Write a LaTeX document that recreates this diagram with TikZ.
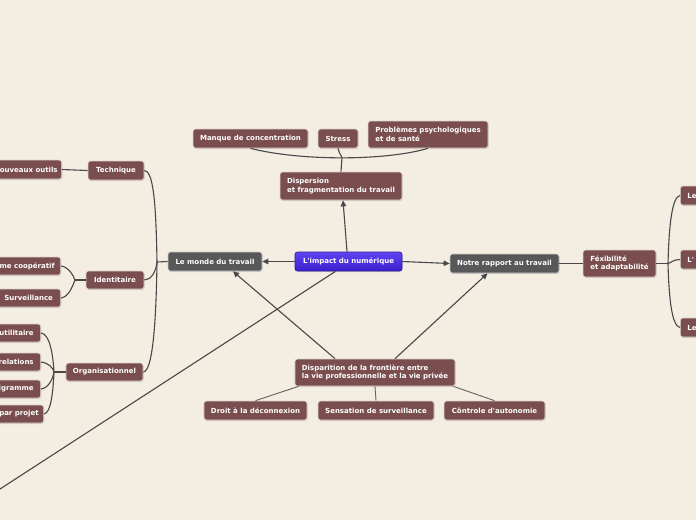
\documentclass[tikz,border=0pt]{standalone}
\usepackage{fontspec}
\newfontfamily\mf{DejaVu Sans}
\usetikzlibrary{shadows,arrows.meta,calc}
\definecolor{bg}{RGB}{243,237,226}
\definecolor{nbrown}{RGB}{122,78,78}
\definecolor{ngray}{RGB}{88,88,88}
\definecolor{lc}{RGB}{72,72,72}
\definecolor{ctop}{RGB}{96,68,242}
\definecolor{cbot}{RGB}{58,32,204}
\definecolor{cbord}{RGB}{50,30,160}
\begin{document}
\begin{tikzpicture}[x=1pt,y=-1pt,
  box/.style={rounded corners=2.5pt, draw=white!75!nbrown, line width=0.7pt, text=white,
    font=\mf\bfseries\fontsize{7}{8.8}\selectfont, inner xsep=7pt, inner ysep=0pt, align=left,
    drop shadow={shadow xshift=0.6pt, shadow yshift=-1pt, opacity=0.25}},
  bn/.style={box, fill=nbrown},
  gn/.style={box, fill=ngray, draw=white!70!ngray},
  cn/.style={box, top color=ctop, bottom color=cbot, draw=cbord},
  sz/.style 2 args={minimum width=#1pt, minimum height=#2pt},
  conn/.style={draw=lc, line width=1.1pt},
  thinconn/.style={draw=lc!85, line width=0.9pt},
  arr/.style={conn, -{Triangle[length=6pt,width=5.5pt]}}
]
\path[use as bounding box] (0,0) rectangle (696,520);
\fill[bg] (0,0) rectangle (696,520);
\clip (0,0) rectangle (696,520);

% central and main nodes
\node[cn, sz={107}{19}] (c) at (348.5,261.5) {L'impact du numérique};
\node[gn, sz={94}{19}] (monde) at (215,261.5) {Le monde du travail};
\node[gn, sz={109}{19}] (notre) at (504.5,263.5) {Notre rapport au travail};
\node[bn, sz={122}{28}] (disp) at (341,186) {Dispersion\\et fragmentation du travail};
\node[bn, sz={115}{19}] (manque) at (250.5,138.5) {Manque de concentration};
\node[bn, sz={40}{19}] (stress) at (338,138.5) {Stress};
\node[bn, sz={120}{27}] (prob) at (428,134.5) {Problèmes psychologiques\\et de santé};
\node[bn, sz={160}{27}] (dis) at (375,372.5) {Disparition de la frontière entre\\la vie professionnelle et la vie privée};
\node[bn, sz={103}{19}] (droit) at (255.5,410.5) {Droit à la déconnexion};
\node[bn, sz={116}{19}] (sens) at (376,410.5) {Sensation de surveillance};
\node[bn, sz={101}{19}] (cont) at (494.5,410.5) {Côntrole d'autonomie};
\node[bn, sz={73}{27}] (fex) at (619.5,263.5) {Féxibilité\\et adaptabilité};
\node[bn, anchor=west, minimum height=19pt, inner xsep=0pt] (r1) at (680,195.5) {\hspace*{7pt}Le\hspace*{20pt}};
\node[bn, anchor=west, minimum height=19pt, inner xsep=0pt] (r2) at (680,259.5) {\hspace*{7pt}L'\hspace*{20pt}};
\node[bn, anchor=west, minimum height=19pt, inner xsep=0pt] (r3) at (680,327.5) {\hspace*{7pt}Le\hspace*{20pt}};

% left side
\node[bn, sz={56}{19}] (tech) at (116,170.5) {Technique};
\node[bn, anchor=east, minimum height=19pt, inner xsep=0pt] (nouv) at (62,169.5) {\hspace*{20pt}ouveaux outils\hspace*{4pt}};
\node[bn, sz={58}{18}] (ident) at (115,280) {Identitaire};
\node[bn, anchor=east, minimum height=18pt, inner xsep=0pt] (coop) at (61,266) {\hspace*{20pt}me coopératif\hspace*{6pt}};
\node[bn, anchor=east, minimum height=18pt, minimum width=64pt] (surv) at (61,298) {Surveillance};
\node[bn, sz={77}{18}] (org) at (104.5,372) {Organisationnel};
\node[bn, anchor=east, minimum height=18pt, inner xsep=0pt] (util) at (41,333) {\hspace*{20pt}utilitaire\hspace*{7pt}};
\node[bn, anchor=east, minimum height=18pt, inner xsep=0pt] (rel) at (41,362) {\hspace*{20pt}relations\hspace*{7pt}};
\node[bn, anchor=east, minimum height=18pt, inner xsep=0pt] (orgr) at (41,389) {\hspace*{20pt}igramme\hspace*{7pt}};
\node[bn, anchor=east, minimum height=18pt, inner xsep=0pt] (proj) at (44,414) {\hspace*{20pt}par projet\hspace*{5pt}};

\coordinate (far) at (-20,502);

% main connectors
\draw[arr] (c.west) -- (monde.east);
\draw[arr] (c.east) -- (notre.west);
\draw[arr] ([xshift=-1.5pt]c.north) -- ([xshift=2pt]disp.south);
\draw[arr] ([xshift=-40pt]dis.north) -- ([xshift=18pt]monde.south);
\draw[arr] ([xshift=20pt]dis.north) -- ([xshift=-17pt]notre.south);
\draw[conn] ([xshift=-13pt]c.south) -- (far);

% dispersion bracket
\coordinate (j1) at (342,157.5);
\draw[conn] (disp.north) -- (j1);
\draw[conn] (manque.south) .. controls (300,161) and (385,161) .. (prob.south);
\draw[conn] (stress.south) .. controls (339,152) .. (j1);

% monde bracket
\coordinate (j2) at (157,262);
\draw[conn] (monde.west) -- (j2);
\draw[conn] (tech.east) .. controls (153,171) and (156,200) .. (j2);
\draw[conn] (ident.east) .. controls (151,280) and (156,272) .. (j2);
\draw[conn] (org.east) .. controls (152,371) and (156,330) .. (j2);

\draw[conn] (tech.west) -- (nouv.east);

% identitaire bracket
\coordinate (j3) at (75,280);
\draw[conn] (ident.west) -- (j3);
\draw[conn] (coop.east) .. controls (69,267) and (73,275) .. (j3);
\draw[conn] (surv.east) .. controls (69,297) and (73,285) .. (j3);

% organisationnel bracket
\coordinate (j4) at (54,372);
\draw[conn] (org.west) -- (j4);
\draw[conn] (util.east) .. controls (50,334) and (53,355) .. (j4);
\draw[conn] (rel.east) .. controls (49,363) and (53,368) .. (j4);
\draw[conn] (orgr.east) .. controls (49,388) and (53,378) .. (j4);
\draw[conn] (proj.east) .. controls (51,413) and (53,392) .. (j4);

% notre rapport side
\draw[conn] (notre.east) -- (fex.west);
\coordinate (j5) at (668,263.5);
\draw[conn] (fex.east) -- (j5);
\draw[conn] (r1.west) .. controls (672,197) and (669,225) .. (j5);
\draw[conn] (r2.west) .. controls (673,259.5) and (671,263) .. (j5);
\draw[conn] (r3.west) .. controls (672,326) and (669,300) .. (j5);

% disparition children
\draw[thinconn] ([xshift=4pt]dis.south west) -- (droit.north);
\draw[thinconn] (dis.south) -- (sens.north);
\draw[thinconn] ([xshift=-2pt]dis.south east) -- (cont.north);
\end{tikzpicture}
\end{document}
